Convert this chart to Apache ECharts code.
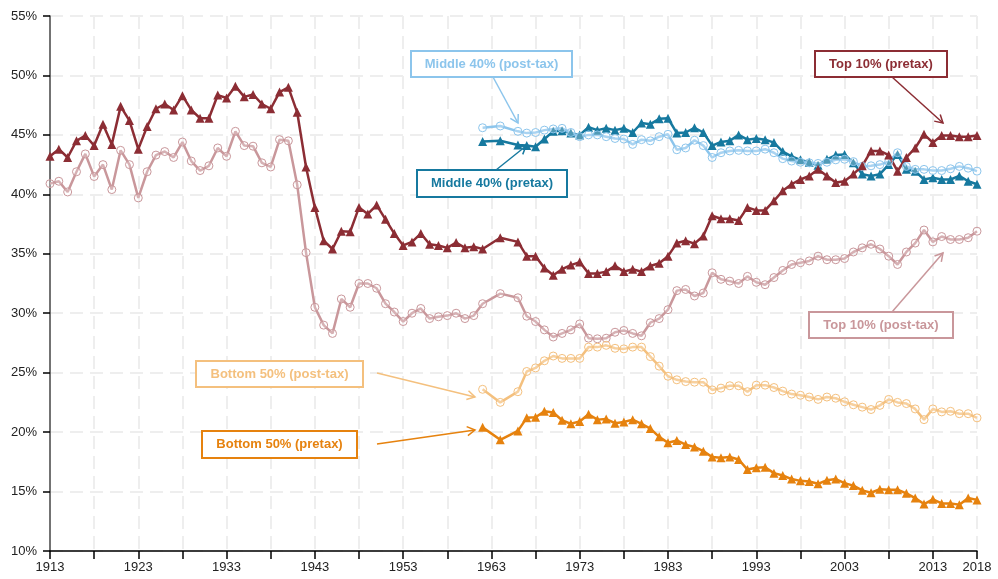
<!DOCTYPE html>
<html>
<head>
<meta charset="utf-8">
<script src="https://cdn.jsdelivr.net/npm/echarts@6/dist/echarts.min.js"></script>
<style>
  html, body { margin: 0; padding: 0; background: #fff; }
  #chart { width: 998px; height: 579px; }
</style>
</head>
<body>
<div id="chart"></div>
<script>
// years on the axis
const years = []
for (let y = 1913; y <= 2018; y++) years.push(String(y))

// years with data (1963 and 1965 missing)
const longYears = []
for (let y = 1913; y <= 1962; y++) longYears.push(y)
longYears.push(1964)
for (let y = 1966; y <= 2018; y++) longYears.push(y)
const shortYears = longYears.filter(y => y >= 1962)

// Top 10% (pretax), 1913-2018
const top10Pre = [
  43.2, 43.8, 43.1, 44.5, 44.95, 44.1, 45.9, 44.2, 47.4, 46.2,
  43.8, 45.7, 47.2, 47.6, 47.1, 48.3, 47.1, 46.4, 46.4, 48.35,
  48.1, 49.1, 48.2, 48.4, 47.6, 47.2, 48.6, 49.0, 46.9, 42.3,
  38.9, 36.1, 35.4,
  36.9, 36.85, 38.9, 38.35, 39.1, 37.9, 36.7, 35.7, 36.0, 36.7,
  35.8, 35.7, 35.5, 35.95, 35.5, 35.6, 35.4,
  36.35, 36.0,
  34.8, 34.8, 33.8, 33.2, 33.7, 34.05, 34.3, 33.35, 33.35, 33.5, 34.0, 33.5, 33.7,
  33.5, 33.97, 34.2, 34.8, 35.9, 36.1, 35.85, 36.5, 38.2, 37.95,
  37.95, 37.8, 38.9, 38.65, 38.65, 39.45, 40.3, 40.85, 41.25, 41.55,
  42.1, 41.55, 41.0, 41.1, 41.7, 42.4, 43.65, 43.65, 43.3, 41.95,
  43.1, 43.9, 45.05, 44.35, 44.95, 44.95, 44.85, 44.85, 44.95
]
// Top 10% (post-tax), 1913-2018
const top10Post = [
  40.9, 41.1, 40.2, 41.9, 43.4, 41.5, 42.5, 40.4, 43.7, 42.5,
  39.7, 41.9, 43.3, 43.6, 43.1, 44.4, 42.8, 42.0, 42.4, 43.9,
  43.2, 45.3, 44.1, 44.05, 42.65, 42.3, 44.6, 44.5, 40.8, 35.1,
  30.5, 29.0, 28.3,
  31.2, 30.5, 32.5, 32.5, 32.1, 30.8, 30.1, 29.3, 30.0, 30.4,
  29.55, 29.7, 29.8, 30.0, 29.55, 29.8, 30.8,
  31.65, 31.3,
  29.75, 29.3, 28.6, 28.0, 28.3, 28.6, 29.1, 27.9, 27.85, 27.9, 28.4, 28.55, 28.3,
  28.1, 29.2, 29.55, 30.3, 31.9, 32.0, 31.45, 31.7, 33.4, 32.85,
  32.7, 32.5, 33.1, 32.6, 32.4, 33.0, 33.6, 34.1, 34.25, 34.4,
  34.8, 34.5, 34.5, 34.6, 35.15, 35.5, 35.8, 35.4, 34.8, 34.1,
  35.15, 35.9, 37.0, 36.0, 36.45, 36.2, 36.2, 36.35, 36.9
]
// Middle 40% (pretax), 1962-2018
const mid40Pre = [
  44.45, 44.5, 44.15,
  44.1, 44.0, 44.65, 45.3, 45.35, 45.15, 45.0, 45.65, 45.4, 45.55, 45.4, 45.55, 45.2,
  46.0, 45.9, 46.35, 46.4, 45.15, 45.2, 45.6, 45.2, 44.1, 44.4,
  44.5, 45.0, 44.6, 44.7, 44.6, 44.35, 43.6, 43.2, 42.9, 42.7,
  42.45, 42.95, 43.3, 43.35, 42.65, 41.7, 41.55, 41.7, 42.5, 43.35,
  42.1, 41.95, 41.25, 41.4, 41.25, 41.25, 41.55, 41.1, 40.85
]
// Middle 40% (post-tax), 1962-2018
const mid40Post = [
  45.6, 45.75, 45.3,
  45.15, 45.2, 45.4, 45.5, 45.55, 45.2, 44.85, 45.0, 45.0, 44.85, 44.7, 44.65, 44.2,
  44.6, 44.5, 44.85, 45.05, 43.75, 43.9, 44.55, 44.1, 43.1, 43.5,
  43.65, 43.7, 43.65, 43.65, 43.8, 43.5, 43.0, 42.8, 42.7, 42.65,
  42.6, 42.7, 42.9, 42.95, 42.75, 42.35, 42.4, 42.5, 42.75, 43.5,
  42.35, 42.1, 42.1, 42.0, 42.0, 42.15, 42.35, 42.2, 41.95
]
// Bottom 50% (pretax), 1962-2018
const bot50Pre = [
  20.4, 19.35, 20.1,
  21.2, 21.25, 21.75, 21.65, 21.0, 20.7, 20.9, 21.5, 21.05, 21.1, 20.75, 20.85, 21.05,
  20.7, 20.3, 19.6, 19.1, 19.3, 18.95, 18.75, 18.4, 17.9, 17.85,
  17.9, 17.7, 16.85, 17.0, 17.05, 16.55, 16.35, 16.05, 15.9, 15.85,
  15.65, 15.95, 16.05, 15.7, 15.5, 15.1, 14.9, 15.2, 15.15, 15.15,
  14.85, 14.45, 13.95, 14.35, 14.0, 14.0, 13.9, 14.45, 14.3
]
// Bottom 50% (post-tax), 1962-2018
const bot50Post = [
  23.6, 22.5, 23.4,
  25.1, 25.4, 26.0, 26.4, 26.2, 26.2, 26.2, 27.15, 27.15, 27.3, 27.05, 27.0, 27.15,
  27.15, 26.35, 25.55, 24.7, 24.4, 24.25, 24.2, 24.2, 23.55, 23.7,
  23.9, 23.9, 23.4, 23.95, 23.95, 23.75, 23.45, 23.2, 23.1, 22.95,
  22.75, 22.95, 22.85, 22.55, 22.3, 22.1, 21.9, 22.25, 22.75, 22.5,
  22.4, 21.95, 21.05, 21.95, 21.7, 21.75, 21.55, 21.55, 21.2
]

const colors = {
  topPre: '#8c2d34',
  topPost: '#c9979b',
  midPre: '#16799f',
  midPost: '#8cc5ec',
  botPre: '#e6820e',
  botPost: '#f4c07e'
}

// spread values over the full year axis, null where no data
function toAxis(yrs, vals) {
  const out = years.map(() => null)
  yrs.forEach((y, i) => { out[y - 1913] = vals[i] })
  return out
}

function makeSeries(name, yrs, vals, color, pretax) {
  return {
    name: name,
    type: 'line',
    data: toAxis(yrs, vals),
    connectNulls: true,
    showAllSymbol: true,
    symbol: pretax ? 'triangle' : 'circle',
    symbolSize: pretax ? 9 : 8,
    lineStyle: { color: color, width: 2.5 },
    itemStyle: pretax
      ? { color: color }
      : { color: 'rgba(255,255,255,0.25)', borderColor: color, borderWidth: 1 },
    emphasis: { disabled: true },
    animation: false
  }
}

const font = '"Liberation Sans", Arial, sans-serif'

// annotation boxes with arrows
const notes = [
  { text: 'Middle 40% (post-tax)', color: colors.midPost, box: [411, 51, 161, 26], from: [493, 77], to: [518, 123] },
  { text: 'Top 10% (pretax)', color: colors.topPre, box: [815, 51, 132, 26], from: [892, 77], to: [943, 123] },
  { text: 'Middle 40% (pretax)', color: colors.midPre, box: [417, 170, 150, 27], from: [496, 170], to: [526, 146] },
  { text: 'Top 10% (post-tax)', color: colors.topPost, box: [809, 312, 144, 26], from: [892, 312], to: [943, 253] },
  { text: 'Bottom 50% (post-tax)', color: colors.botPost, box: [196, 361, 167, 26], from: [377, 373], to: [475, 397] },
  { text: 'Bottom 50% (pretax)', color: colors.botPre, box: [202, 431, 155, 27], from: [377, 444], to: [475, 430] }
]

function buildGraphic() {
  const els = []
  notes.forEach(n => {
    const [x1, y1] = n.from
    const [x2, y2] = n.to
    const ang = Math.atan2(y2 - y1, x2 - x1)
    const len = 9
    const spread = Math.PI / 6
    const a1 = [x2 - len * Math.cos(ang - spread), y2 - len * Math.sin(ang - spread)]
    const a2 = [x2 - len * Math.cos(ang + spread), y2 - len * Math.sin(ang + spread)]
    els.push({
      type: 'line', z: 100, silent: true,
      shape: { x1: x1, y1: y1, x2: x2, y2: y2 },
      style: { stroke: n.color, lineWidth: 1.5 }
    })
    els.push({
      type: 'polyline', z: 100, silent: true,
      shape: { points: [a1, [x2, y2], a2] },
      style: { stroke: n.color, lineWidth: 1.5, fill: null }
    })
    els.push({
      type: 'rect', z: 101, silent: true,
      shape: { x: n.box[0], y: n.box[1], width: n.box[2], height: n.box[3] },
      style: { fill: '#fff', stroke: n.color, lineWidth: 2 }
    })
    els.push({
      type: 'text', z: 102, silent: true,
      x: n.box[0] + n.box[2] / 2, y: n.box[1] + n.box[3] / 2,
      style: {
        text: n.text, fill: n.color, font: 'bold 13px ' + font,
        align: 'center', verticalAlign: 'middle'
      }
    })
  })
  return els
}

const chart = echarts.init(document.getElementById('chart'), null, { renderer: 'canvas' })
chart.setOption({
  backgroundColor: '#fff',
  animation: false,
  grid: { left: 50, right: 21, top: 16, bottom: 28, containLabel: false },
  xAxis: {
    type: 'category',
    data: years,
    boundaryGap: false,
    axisLine: { lineStyle: { color: '#000', width: 1.5 } },
    axisTick: {
      interval: (i) => i % 5 === 0,
      length: 8,
      lineStyle: { color: '#000', width: 1.5 }
    },
    axisLabel: {
      interval: (i, v) => i % 10 === 0 || v === '2018',
      color: '#222',
      fontSize: 13,
      fontFamily: font,
      margin: 10
    },
    splitLine: {
      show: true,
      interval: (i) => i % 5 === 0 && i > 0,
      lineStyle: { color: '#eeeeee', width: 2, type: [13, 7] }
    }
  },
  yAxis: {
    type: 'value',
    min: 10,
    max: 55,
    interval: 5,
    axisLine: { show: true, lineStyle: { color: '#444', width: 1.5 } },
    axisTick: { show: true, length: 7, lineStyle: { color: '#000', width: 1.5 } },
    axisLabel: {
      formatter: '{value}%',
      color: '#222',
      fontSize: 13,
      fontFamily: font,
      margin: 13
    },
    splitLine: { lineStyle: { color: '#eeeeee', width: 2, type: [13, 7] } }
  },
  series: [
    makeSeries('Top 10% (post-tax)', longYears, top10Post, colors.topPost, false),
    makeSeries('Bottom 50% (post-tax)', shortYears, bot50Post, colors.botPost, false),
    makeSeries('Bottom 50% (pretax)', shortYears, bot50Pre, colors.botPre, true),
    makeSeries('Middle 40% (pretax)', shortYears, mid40Pre, colors.midPre, true),
    makeSeries('Middle 40% (post-tax)', shortYears, mid40Post, colors.midPost, false),
    makeSeries('Top 10% (pretax)', longYears, top10Pre, colors.topPre, true)
  ],
  graphic: buildGraphic()
})
</script>
</body>
</html>
